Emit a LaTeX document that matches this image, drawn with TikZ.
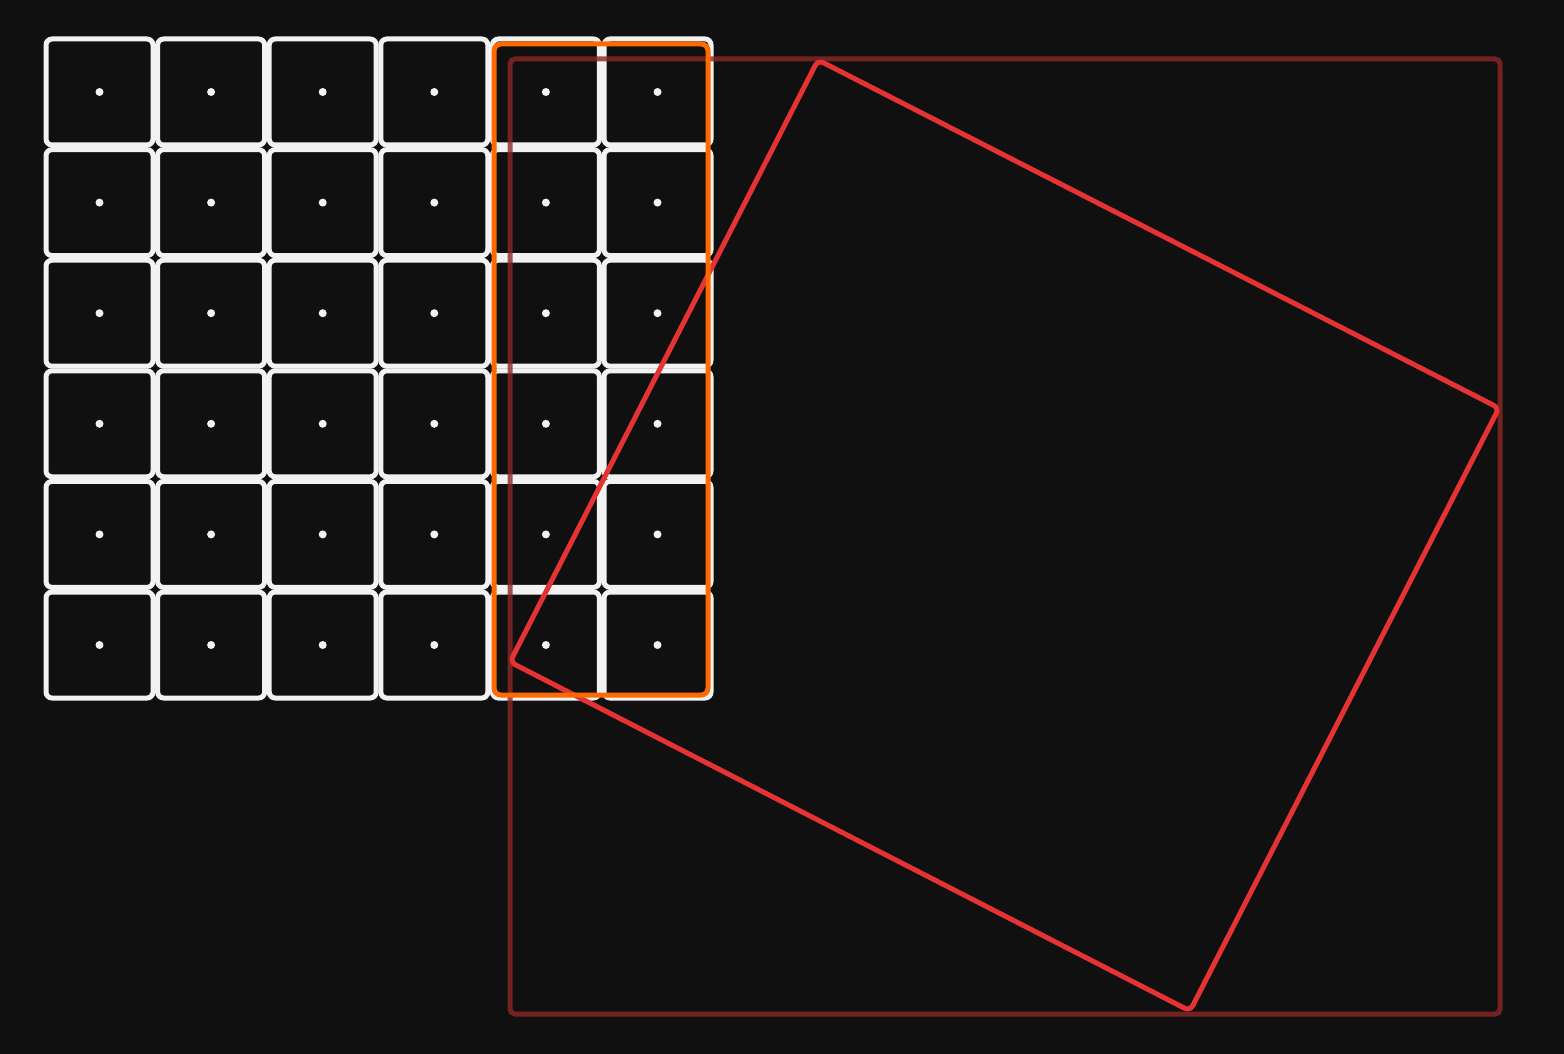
\documentclass[tikz,border=0pt]{standalone}
\begin{document}
\begin{tikzpicture}[x=1pt,y=-1pt,
  cellbox/.style={draw=cellwhite,line width=5pt,rounded corners=6pt,minimum width=107pt,minimum height=106pt,inner sep=0pt},
  celldot/.style={fill=cellwhite,circle,inner sep=0pt,minimum size=8pt},
  outerframe/.style={draw=darkframe,line width=5pt,rounded corners=5pt,draw opacity=0.8},
  tiltbox/.style={draw=tiltred,line width=5pt,rounded corners=6pt,line join=round},
  selbox/.style={draw=selorange,line width=5pt,rounded corners=7pt}]
\definecolor{bg}{HTML}{101010}
\definecolor{cellwhite}{HTML}{F2F2F2}
\definecolor{darkframe}{HTML}{8C2626}
\definecolor{tiltred}{HTML}{E53232}
\definecolor{selorange}{HTML}{FF6A00}
\fill[bg] (0,0) rectangle (1564,1054);
\useasboundingbox (0,0) rectangle (1564,1054);
\foreach \i in {0,...,5}{
  \foreach \j in {0,...,5}{
    \pgfmathsetmacro{\cx}{99.5+111.6*\i}
    \pgfmathsetmacro{\cy}{92+110.6*\j}
    \node[cellbox] (c-\i-\j) at (\cx,\cy) {};
    \node[celldot] (d-\i-\j) at (c-\i-\j.center) {};
  }
}
\coordinate (fA) at (510,59);
\coordinate (fB) at (1500,1014);
\draw[outerframe] (fA) rectangle (fB);
\coordinate (t1) at (818,60);
\coordinate (t2) at (1499,408);
\coordinate (t3) at (1190,1011);
\coordinate (t4) at (510,662);
\draw[tiltbox] (t1) -- (t2) -- (t3) -- (t4) -- cycle;
\coordinate (sA) at (494,44);
\coordinate (sB) at (708,695);
\draw[selbox] (sA) rectangle (sB);
\end{tikzpicture}
\end{document}
